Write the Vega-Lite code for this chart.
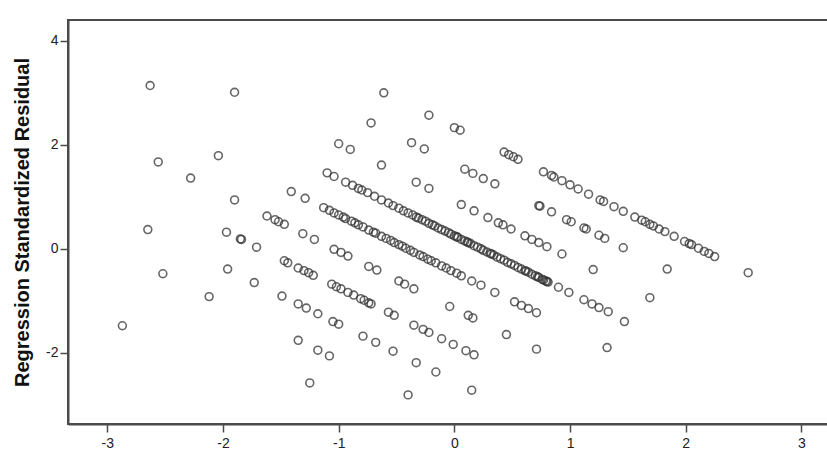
{
  "$schema": "https://vega.github.io/schema/vega-lite/v6.json",
  "autosize": "none",
  "padding": {"left": 68, "top": 20, "right": 0, "bottom": 26},
  "width": 760,
  "height": 404,
  "background": "white",
  "config": {
    "view": {"stroke": "#4a4a4a", "strokeWidth": 2},
    "axis": {
      "domainColor": "#4a4a4a",
      "domainWidth": 2,
      "tickColor": "#4a4a4a",
      "tickWidth": 1.5,
      "tickSize": 8,
      "grid": false,
      "labelFont": "Liberation Sans",
      "labelFontSize": 14,
      "labelColor": "#222222",
      "labelExpr": "replace(datum.label, '\u2212', '-')",
      "titleFont": "Liberation Sans",
      "titleColor": "#111111"
    }
  },
  "data": {
    "values": [
      {"x": -0.61, "y": 3.00}, {"x": -0.22, "y": 2.57}, {"x": 0.00, "y": 2.33}, {"x": 0.05, "y": 2.28},
      {"x": 0.43, "y": 1.86}, {"x": 0.47, "y": 1.81}, {"x": 0.51, "y": 1.77}, {"x": 0.55, "y": 1.72},
      {"x": 0.77, "y": 1.48}, {"x": 0.84, "y": 1.41}, {"x": 0.86, "y": 1.38}, {"x": 0.93, "y": 1.31},
      {"x": 1.00, "y": 1.23}, {"x": 1.07, "y": 1.15}, {"x": 1.16, "y": 1.05}, {"x": 1.26, "y": 0.94},
      {"x": 1.29, "y": 0.91}, {"x": 1.38, "y": 0.81}, {"x": 1.46, "y": 0.72}, {"x": 1.56, "y": 0.61},
      {"x": 1.62, "y": 0.55}, {"x": 1.65, "y": 0.52}, {"x": 1.69, "y": 0.47}, {"x": 1.72, "y": 0.44},
      {"x": 1.77, "y": 0.38}, {"x": 1.82, "y": 0.33}, {"x": 1.90, "y": 0.24}, {"x": 1.99, "y": 0.14},
      {"x": 2.03, "y": 0.10}, {"x": 2.05, "y": 0.08}, {"x": 2.11, "y": 0.01}, {"x": 2.16, "y": -0.05},
      {"x": 2.20, "y": -0.09}, {"x": 2.25, "y": -0.15}, {"x": 2.54, "y": -0.46},

      {"x": -0.72, "y": 2.42}, {"x": -0.37, "y": 2.04}, {"x": -0.26, "y": 1.92}, {"x": 0.09, "y": 1.53},
      {"x": 0.16, "y": 1.45}, {"x": 0.25, "y": 1.35}, {"x": 0.35, "y": 1.25}, {"x": 0.73, "y": 0.83},
      {"x": 0.74, "y": 0.82}, {"x": 0.84, "y": 0.71}, {"x": 0.97, "y": 0.56}, {"x": 1.01, "y": 0.52},
      {"x": 1.12, "y": 0.40}, {"x": 1.14, "y": 0.38}, {"x": 1.25, "y": 0.26}, {"x": 1.30, "y": 0.20},
      {"x": 1.46, "y": 0.02}, {"x": 1.84, "y": -0.39},

      {"x": -1.90, "y": 3.01}, {"x": -1.00, "y": 2.02}, {"x": -0.90, "y": 1.91}, {"x": -0.63, "y": 1.61},
      {"x": -0.33, "y": 1.28}, {"x": -0.22, "y": 1.16}, {"x": 0.06, "y": 0.85}, {"x": 0.17, "y": 0.73},
      {"x": 0.29, "y": 0.60}, {"x": 0.38, "y": 0.50}, {"x": 0.42, "y": 0.46}, {"x": 0.49, "y": 0.38},
      {"x": 0.61, "y": 0.25}, {"x": 0.67, "y": 0.18}, {"x": 0.73, "y": 0.12}, {"x": 0.80, "y": 0.04},
      {"x": 0.93, "y": -0.10}, {"x": 1.20, "y": -0.40}, {"x": 1.69, "y": -0.94},

      {"x": -2.63, "y": 3.14}, {"x": -1.10, "y": 1.46}, {"x": -1.04, "y": 1.39}, {"x": -0.94, "y": 1.28},
      {"x": -0.88, "y": 1.22}, {"x": -0.83, "y": 1.16}, {"x": -0.80, "y": 1.13}, {"x": -0.75, "y": 1.08},
      {"x": -0.69, "y": 1.01}, {"x": -0.63, "y": 0.94}, {"x": -0.57, "y": 0.88}, {"x": -0.53, "y": 0.83},
      {"x": -0.48, "y": 0.78}, {"x": -0.44, "y": 0.73}, {"x": -0.40, "y": 0.69},
      {"x": -0.36, "y": 0.65}, {"x": -0.33, "y": 0.61}, {"x": -0.31, "y": 0.59}, {"x": -0.28, "y": 0.56},
      {"x": -0.25, "y": 0.53}, {"x": -0.22, "y": 0.49}, {"x": -0.19, "y": 0.46}, {"x": -0.17, "y": 0.44},
      {"x": -0.14, "y": 0.40}, {"x": -0.11, "y": 0.37}, {"x": -0.08, "y": 0.34}, {"x": -0.05, "y": 0.31},
      {"x": -0.03, "y": 0.28}, {"x": 0.00, "y": 0.25}, {"x": 0.02, "y": 0.23}, {"x": 0.03, "y": 0.22},
      {"x": 0.06, "y": 0.18}, {"x": 0.09, "y": 0.15}, {"x": 0.11, "y": 0.13}, {"x": 0.12, "y": 0.12},
      {"x": 0.14, "y": 0.10}, {"x": 0.17, "y": 0.06}, {"x": 0.20, "y": 0.03}, {"x": 0.23, "y": 0.00},
      {"x": 0.25, "y": -0.03}, {"x": 0.28, "y": -0.06}, {"x": 0.31, "y": -0.09}, {"x": 0.32, "y": -0.10},
      {"x": 0.34, "y": -0.12}, {"x": 0.37, "y": -0.16}, {"x": 0.40, "y": -0.19}, {"x": 0.43, "y": -0.22},
      {"x": 0.46, "y": -0.26}, {"x": 0.49, "y": -0.29}, {"x": 0.52, "y": -0.32}, {"x": 0.55, "y": -0.36},
      {"x": 0.58, "y": -0.39}, {"x": 0.61, "y": -0.42}, {"x": 0.62, "y": -0.43}, {"x": 0.64, "y": -0.45},
      {"x": 0.67, "y": -0.49}, {"x": 0.70, "y": -0.52}, {"x": 0.72, "y": -0.54}, {"x": 0.73, "y": -0.55},
      {"x": 0.76, "y": -0.59}, {"x": 0.77, "y": -0.60}, {"x": 0.79, "y": -0.62}, {"x": 0.80, "y": -0.63},
      {"x": 0.81, "y": -0.64},
      {"x": 0.90, "y": -0.74}, {"x": 0.99, "y": -0.84}, {"x": 1.12, "y": -0.98}, {"x": 1.19, "y": -1.06},
      {"x": 1.25, "y": -1.13}, {"x": 1.33, "y": -1.21}, {"x": 1.47, "y": -1.40},

      {"x": -2.04, "y": 1.79}, {"x": -1.41, "y": 1.10}, {"x": -1.29, "y": 0.97}, {"x": -1.13, "y": 0.79},
      {"x": -1.08, "y": 0.74}, {"x": -1.04, "y": 0.69}, {"x": -1.00, "y": 0.65}, {"x": -0.96, "y": 0.61},
      {"x": -0.94, "y": 0.58}, {"x": -0.89, "y": 0.53}, {"x": -0.86, "y": 0.50}, {"x": -0.83, "y": 0.46},
      {"x": -0.79, "y": 0.42}, {"x": -0.74, "y": 0.36}, {"x": -0.70, "y": 0.32}, {"x": -0.68, "y": 0.30},
      {"x": -0.63, "y": 0.24}, {"x": -0.59, "y": 0.20}, {"x": -0.55, "y": 0.16}, {"x": -0.52, "y": 0.12},
      {"x": -0.48, "y": 0.08}, {"x": -0.45, "y": 0.05}, {"x": -0.42, "y": 0.01}, {"x": -0.38, "y": -0.03},
      {"x": -0.35, "y": -0.07}, {"x": -0.30, "y": -0.12}, {"x": -0.27, "y": -0.15}, {"x": -0.23, "y": -0.20},
      {"x": -0.20, "y": -0.23}, {"x": -0.16, "y": -0.27}, {"x": -0.11, "y": -0.33}, {"x": -0.07, "y": -0.37},
      {"x": -0.03, "y": -0.42}, {"x": 0.02, "y": -0.47}, {"x": 0.06, "y": -0.52}, {"x": 0.15, "y": -0.62},
      {"x": 0.23, "y": -0.70}, {"x": 0.35, "y": -0.84}, {"x": 0.52, "y": -1.02}, {"x": 0.58, "y": -1.09},
      {"x": 0.64, "y": -1.15}, {"x": 0.71, "y": -1.23}, {"x": 1.32, "y": -1.90},

      {"x": -2.56, "y": 1.67}, {"x": -2.28, "y": 1.36}, {"x": -1.90, "y": 0.94}, {"x": -1.62, "y": 0.63},
      {"x": -1.55, "y": 0.56}, {"x": -1.52, "y": 0.52}, {"x": -1.47, "y": 0.47}, {"x": -1.31, "y": 0.29},
      {"x": -1.21, "y": 0.18}, {"x": -1.04, "y": -0.01}, {"x": -0.98, "y": -0.07}, {"x": -0.92, "y": -0.14},
      {"x": -0.74, "y": -0.34}, {"x": -0.67, "y": -0.41}, {"x": -0.48, "y": -0.62}, {"x": -0.43, "y": -0.68},
      {"x": -0.35, "y": -0.77}, {"x": -0.04, "y": -1.11}, {"x": 0.12, "y": -1.28}, {"x": 0.16, "y": -1.33},
      {"x": 0.45, "y": -1.65}, {"x": 0.71, "y": -1.93},

      {"x": -1.97, "y": 0.32}, {"x": -1.85, "y": 0.19}, {"x": -1.84, "y": 0.18}, {"x": -1.71, "y": 0.03},
      {"x": -1.47, "y": -0.23}, {"x": -1.44, "y": -0.27}, {"x": -1.35, "y": -0.37}, {"x": -1.30, "y": -0.42},
      {"x": -1.26, "y": -0.46}, {"x": -1.22, "y": -0.51}, {"x": -1.06, "y": -0.68}, {"x": -1.02, "y": -0.73},
      {"x": -0.98, "y": -0.77}, {"x": -0.92, "y": -0.84}, {"x": -0.87, "y": -0.89}, {"x": -0.81, "y": -0.96},
      {"x": -0.78, "y": -0.99}, {"x": -0.74, "y": -1.04}, {"x": -0.72, "y": -1.06}, {"x": -0.57, "y": -1.22},
      {"x": -0.52, "y": -1.28}, {"x": -0.35, "y": -1.47}, {"x": -0.27, "y": -1.55}, {"x": -0.22, "y": -1.61},
      {"x": -0.11, "y": -1.73}, {"x": -0.01, "y": -1.84}, {"x": 0.10, "y": -1.96}, {"x": 0.17, "y": -2.04},

      {"x": -2.65, "y": 0.37}, {"x": -1.96, "y": -0.39}, {"x": -1.73, "y": -0.65}, {"x": -1.49, "y": -0.91},
      {"x": -1.35, "y": -1.06}, {"x": -1.28, "y": -1.14}, {"x": -1.18, "y": -1.25}, {"x": -1.05, "y": -1.40},
      {"x": -1.00, "y": -1.45}, {"x": -0.79, "y": -1.68}, {"x": -0.68, "y": -1.80}, {"x": -0.53, "y": -1.97},
      {"x": -0.33, "y": -2.19}, {"x": -0.16, "y": -2.37}, {"x": 0.15, "y": -2.72},

      {"x": -2.52, "y": -0.48}, {"x": -2.12, "y": -0.92}, {"x": -1.35, "y": -1.76}, {"x": -1.18, "y": -1.95},
      {"x": -1.08, "y": -2.06}, {"x": -0.40, "y": -2.81},
      {"x": -1.25, "y": -2.58}, {"x": -2.87, "y": -1.48}
    ]
  },
  "mark": {
    "type": "point",
    "shape": "circle",
    "filled": false,
    "size": 62,
    "strokeWidth": 1.6,
    "color": "#333333",
    "opacity": 0.75
  },
  "encoding": {
    "x": {
      "field": "x",
      "type": "quantitative",
      "scale": {"domain": [-3.34, 3.23], "nice": false, "zero": false},
      "axis": {"values": [-3, -2, -1, 0, 1, 2, 3], "title": null, "labelPadding": 4}
    },
    "y": {
      "field": "y",
      "type": "quantitative",
      "scale": {"domain": [-3.37, 4.4], "nice": false, "zero": false},
      "axis": {
        "values": [-2, 0, 2, 4],
        "title": "Regression Standardized Residual",
        "titleFontSize": 20,
        "titleFontWeight": "bold",
        "titleX": -40,
        "titleY": 202,
        "titleAngle": 270,
        "titleAlign": "center",
        "titleBaseline": "alphabetic",
        "labelPadding": 2
      }
    }
  }
}
